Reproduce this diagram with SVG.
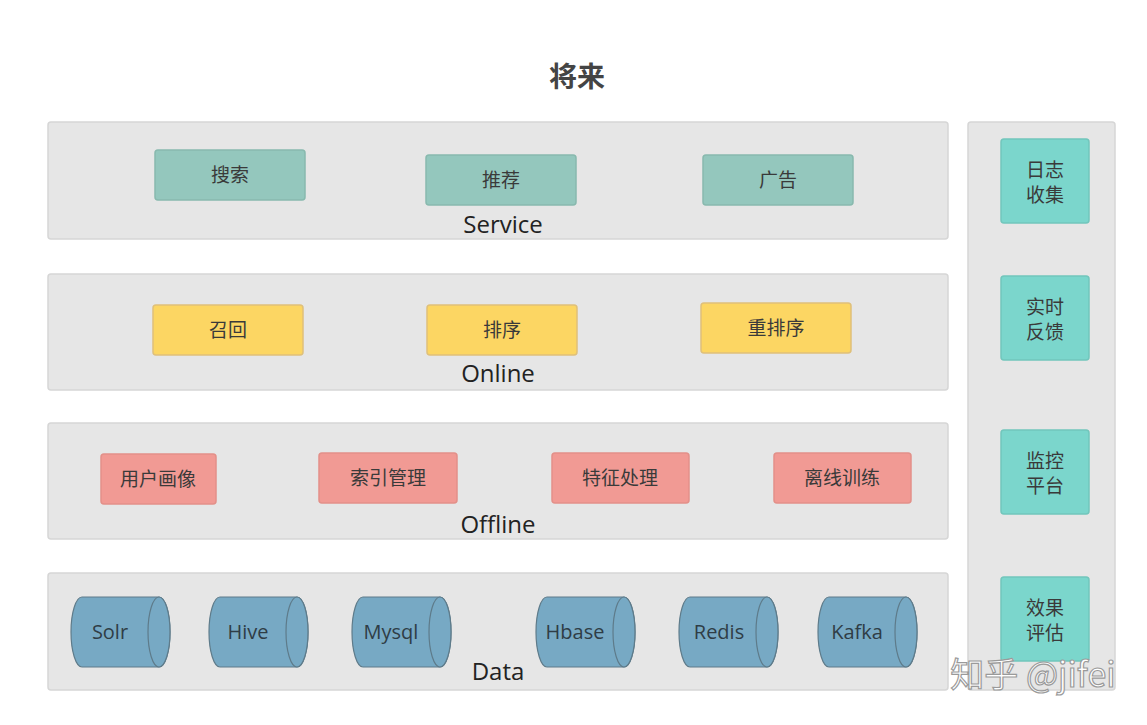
<svg xmlns="http://www.w3.org/2000/svg" width="1147" height="725" viewBox="0 0 1147 725">
<defs>
<style>
.panel{fill:#e6e6e6;stroke:#d6d6d6;stroke-width:1.5}
.svc{fill:#94c7bd;stroke:#88b9ae;stroke-width:1.5}
.onl{fill:#fcd663;stroke:#dfc07a;stroke-width:1.5}
.off{fill:#f19a94;stroke:#e39089;stroke-width:1.5}
.side{fill:#7bd6cc;stroke:#72c6bc;stroke-width:1.5}
.cyl{fill:#77a9c4;stroke:#5e7b8a;stroke-width:1.2}
.t{font-family:"Noto Sans CJK SC","Open Sans",sans-serif;font-size:19px;fill:#3a3a3a;text-anchor:middle}
.ct{font-family:"Open Sans","Noto Sans",sans-serif;font-size:20px;fill:#2f3d46;text-anchor:middle}
.lbl{font-family:"Open Sans","Noto Sans",sans-serif;font-size:24px;fill:#222;text-anchor:middle}
</style>
</defs>
<rect width="1147" height="725" fill="#ffffff"/>
<text x="577" y="87" style="font-family:'Noto Sans CJK SC',sans-serif;font-size:28px;font-weight:bold;fill:#444;text-anchor:middle">将来</text>

<g id="panel-service"><rect class="panel" x="48" y="122" width="900" height="117" rx="3"/><text class="lbl" x="503" y="233">Service</text></g>
<g id="panel-online"><rect class="panel" x="48" y="274" width="900" height="116" rx="3"/><text class="lbl" x="498" y="382">Online</text></g>
<g id="panel-offline"><rect class="panel" x="48" y="423" width="900" height="116" rx="3"/><text class="lbl" x="498" y="533">Offline</text></g>
<g id="panel-data"><rect class="panel" x="48" y="573" width="900" height="117" rx="3"/><text class="lbl" x="498" y="680">Data</text></g>
<g id="panel-side"><rect class="panel" x="968" y="122" width="147" height="568" rx="3"/></g>

<g id="search"><rect class="svc" x="155" y="150" width="150" height="50" rx="3"/><text class="t" x="230" y="182">搜索</text></g>
<g id="recommend"><rect class="svc" x="426" y="155" width="150" height="50" rx="3"/><text class="t" x="501" y="187">推荐</text></g>
<g id="ads"><rect class="svc" x="703" y="155" width="150" height="50" rx="3"/><text class="t" x="778" y="187">广告</text></g>

<g id="recall"><rect class="onl" x="153" y="305" width="150" height="50" rx="3"/><text class="t" x="228" y="337">召回</text></g>
<g id="rank"><rect class="onl" x="427" y="305" width="150" height="50" rx="3"/><text class="t" x="502" y="337">排序</text></g>
<g id="rerank"><rect class="onl" x="701" y="303" width="150" height="50" rx="3"/><text class="t" x="776" y="335">重排序</text></g>

<g id="profile"><rect class="off" x="101" y="454" width="115" height="50" rx="3"/><text class="t" x="158" y="486">用户画像</text></g>
<g id="index"><rect class="off" x="319" y="453" width="138" height="50" rx="3"/><text class="t" x="388" y="485">索引管理</text></g>
<g id="feature"><rect class="off" x="552" y="453" width="137" height="50" rx="3"/><text class="t" x="620" y="485">特征处理</text></g>
<g id="train"><rect class="off" x="774" y="453" width="137" height="50" rx="3"/><text class="t" x="842" y="485">离线训练</text></g>

<g id="solr"><path class="cyl" d="M82,597 H159 A11,35 0 0 1 159,667 H82 A11,35 0 0 1 82,597 Z"/><ellipse class="cyl" cx="159" cy="632" rx="11" ry="35"/><text class="ct" x="110" y="639">Solr</text></g>
<g id="hive"><path class="cyl" d="M220,597 H297 A11,35 0 0 1 297,667 H220 A11,35 0 0 1 220,597 Z"/><ellipse class="cyl" cx="297" cy="632" rx="11" ry="35"/><text class="ct" x="248" y="639">Hive</text></g>
<g id="mysql"><path class="cyl" d="M363,597 H440 A11,35 0 0 1 440,667 H363 A11,35 0 0 1 363,597 Z"/><ellipse class="cyl" cx="440" cy="632" rx="11" ry="35"/><text class="ct" x="391" y="639">Mysql</text></g>
<g id="hbase"><path class="cyl" d="M547,597 H624 A11,35 0 0 1 624,667 H547 A11,35 0 0 1 547,597 Z"/><ellipse class="cyl" cx="624" cy="632" rx="11" ry="35"/><text class="ct" x="575" y="639">Hbase</text></g>
<g id="redis"><path class="cyl" d="M690,597 H767 A11,35 0 0 1 767,667 H690 A11,35 0 0 1 690,597 Z"/><ellipse class="cyl" cx="767" cy="632" rx="11" ry="35"/><text class="ct" x="719" y="639">Redis</text></g>
<g id="kafka"><path class="cyl" d="M829,597 H906 A11,35 0 0 1 906,667 H829 A11,35 0 0 1 829,597 Z"/><ellipse class="cyl" cx="906" cy="632" rx="11" ry="35"/><text class="ct" x="857" y="639">Kafka</text></g>

<g id="log"><rect class="side" x="1001" y="139" width="88" height="84" rx="3"/><text class="t" x="1045" y="177">日志<tspan x="1045" dy="24.5">收集</tspan></text></g>
<g id="feedback"><rect class="side" x="1001" y="276" width="88" height="84" rx="3"/><text class="t" x="1045" y="314">实时<tspan x="1045" dy="24.5">反馈</tspan></text></g>
<g id="monitor"><rect class="side" x="1001" y="430" width="88" height="84" rx="3"/><text class="t" x="1045" y="468">监控<tspan x="1045" dy="24.5">平台</tspan></text></g>
<g id="eval"><rect class="side" x="1001" y="577" width="88" height="84" rx="3"/><text class="t" x="1045" y="615">效果<tspan x="1045" dy="24.5">评估</tspan></text></g>

<g id="connectors"></g>

<text x="1033" y="687" style="font-family:'Noto Sans CJK SC',sans-serif;font-size:34px;fill:#ffffff;stroke:#9a9a9a;stroke-width:1.2;text-anchor:middle">知乎 @jifei</text>
</svg>
